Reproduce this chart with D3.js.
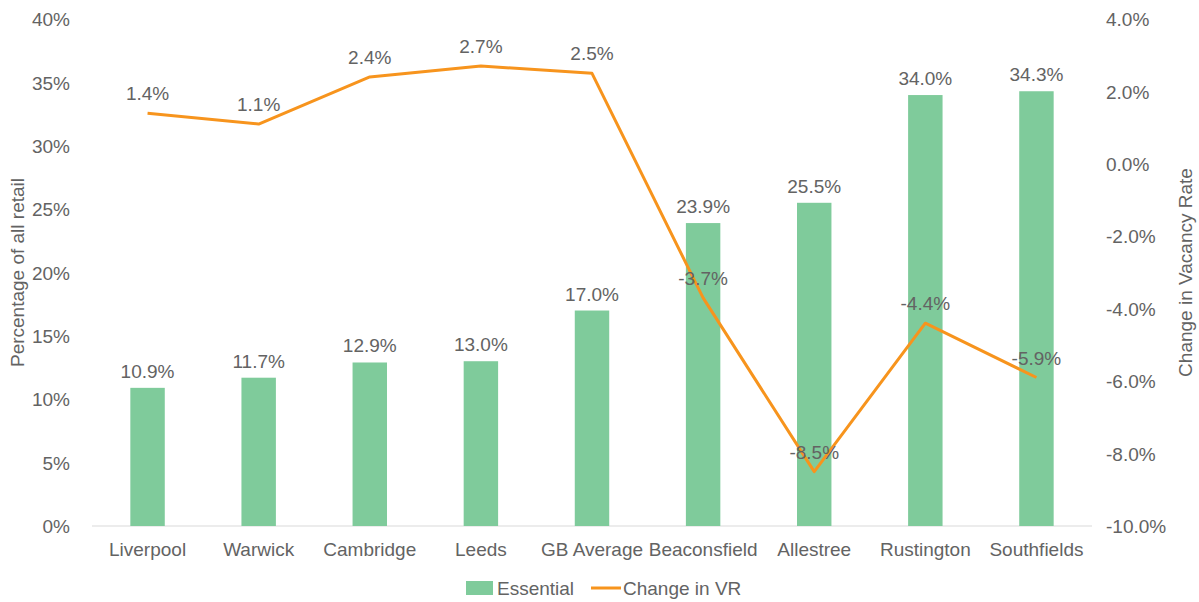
<!DOCTYPE html>
<html>
<head>
<meta charset="utf-8">
<script src="https://cdn.jsdelivr.net/npm/d3@7"></script>
<style>
  body { margin: 0; background: #fff; }
  text { font-family: "Liberation Sans", Arial, sans-serif; fill: #636363; }
</style>
</head>
<body>
<div id="chart"></div>
<script>
var categories = ["Liverpool", "Warwick", "Cambridge", "Leeds", "GB Average", "Beaconsfield", "Allestree", "Rustington", "Southfields"];
var essential = [10.9, 11.7, 12.9, 13.0, 17.0, 23.9, 25.5, 34.0, 34.3];
var changeVR = [1.4, 1.1, 2.4, 2.7, 2.5, -3.7, -8.5, -4.4, -5.9];
var leftTicks = [0, 5, 10, 15, 20, 25, 30, 35, 40];
var rightTicks = [-10, -8, -6, -4, -2, 0, 2, 4];

var width = 1199, height = 602;
var margin = {top: 19, right: 107, bottom: 76, left: 92};
var fs = 19;

var svg = d3.select("#chart").append("svg")
  .attr("width", width)
  .attr("height", height);

var x = d3.scaleBand()
  .domain(categories)
  .range([margin.left, width - margin.right])
  .paddingInner(0.69)
  .paddingOuter(0.345);

var yLeft = d3.scaleLinear().domain([0, 40]).range([height - margin.bottom, margin.top]);
var yRight = d3.scaleLinear().domain([-10, 4]).range([height - margin.bottom, margin.top]);

// baseline
svg.append("line")
  .attr("x1", margin.left).attr("x2", width - margin.right)
  .attr("y1", yLeft(0)).attr("y2", yLeft(0))
  .attr("stroke", "#d9d9d9").attr("stroke-width", 1);

// left axis
var gl = svg.append("g")
  .attr("transform", "translate(" + (margin.left - 19) + ",0)")
  .call(d3.axisLeft(yLeft).tickValues(leftTicks).tickSize(0).tickFormat(function(d) { return d + "%"; }));
gl.select(".domain").remove();
gl.selectAll("text").attr("font-size", fs).attr("dy", "0.35em");

// right axis
var gr = svg.append("g")
  .attr("transform", "translate(" + (width - margin.right + 11) + ",0)")
  .call(d3.axisRight(yRight).tickValues(rightTicks).tickSize(0).tickFormat(function(d) { return d.toFixed(1) + "%"; }));
gr.select(".domain").remove();
gr.selectAll("text").attr("font-size", fs).attr("dy", "0.35em");

// category axis
var gx = svg.append("g")
  .attr("transform", "translate(0," + yLeft(0) + ")")
  .call(d3.axisBottom(x).tickSize(0).tickPadding(17));
gx.select(".domain").remove();
gx.selectAll("text").attr("font-size", fs);

// bars
svg.append("g").selectAll("rect")
  .data(essential)
  .join("rect")
    .attr("x", function(d, i) { return x(categories[i]); })
    .attr("y", function(d) { return yLeft(d); })
    .attr("width", x.bandwidth())
    .attr("height", function(d) { return yLeft(0) - yLeft(d); })
    .attr("fill", "#7fcb9b");

svg.append("g").selectAll("text")
  .data(essential)
  .join("text")
    .attr("x", function(d, i) { return x(categories[i]) + x.bandwidth() / 2; })
    .attr("y", function(d) { return yLeft(d) - 10; })
    .attr("text-anchor", "middle")
    .attr("font-size", fs)
    .text(function(d) { return d.toFixed(1) + "%"; });

// line
var line = d3.line()
  .x(function(d, i) { return x(categories[i]) + x.bandwidth() / 2; })
  .y(function(d) { return yRight(d); });

svg.append("path")
  .datum(changeVR)
  .attr("d", line)
  .attr("fill", "none")
  .attr("stroke", "#f7941d")
  .attr("stroke-width", 3)
  .attr("stroke-linejoin", "round");

svg.append("g").selectAll("text")
  .data(changeVR)
  .join("text")
    .attr("x", function(d, i) { return x(categories[i]) + x.bandwidth() / 2; })
    .attr("y", function(d) { return yRight(d) - 13; })
    .attr("text-anchor", "middle")
    .attr("font-size", fs)
    .text(function(d) { return d.toFixed(1) + "%"; });

// axis titles
var midY = margin.top + (height - margin.bottom - margin.top) / 2;
svg.append("text")
  .attr("transform", "translate(24," + midY + ") rotate(-90)")
  .attr("text-anchor", "middle")
  .attr("font-size", fs)
  .text("Percentage of all retail");

svg.append("text")
  .attr("transform", "translate(1192," + midY + ") rotate(-90)")
  .attr("text-anchor", "middle")
  .attr("font-size", fs)
  .text("Change in Vacancy Rate");

// legend
var legend = svg.append("g").attr("transform", "translate(0,588)");
legend.append("rect")
  .attr("x", 466).attr("y", -7).attr("width", 27).attr("height", 14)
  .attr("fill", "#7fcb9b");
legend.append("text")
  .attr("x", 497).attr("y", 0).attr("dy", "0.35em")
  .attr("font-size", fs)
  .text("Essential");
legend.append("line")
  .attr("x1", 591).attr("x2", 621).attr("y1", 0).attr("y2", 0)
  .attr("stroke", "#f7941d").attr("stroke-width", 3);
legend.append("text")
  .attr("x", 623).attr("y", 0).attr("dy", "0.35em")
  .attr("font-size", fs)
  .text("Change in VR");
</script>
</body>
</html>
